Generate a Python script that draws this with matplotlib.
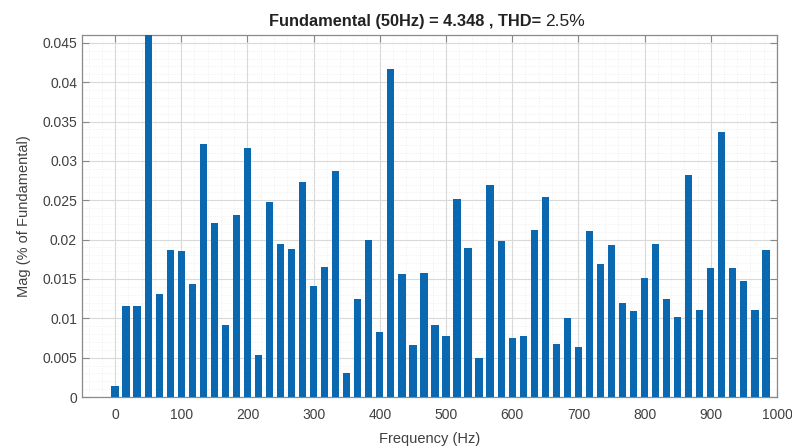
import matplotlib
matplotlib.use('Agg')
from matplotlib import pyplot as plt
from matplotlib.ticker import AutoMinorLocator, FuncFormatter
import numpy as np

plt.rcParams['font.family'] = ['Liberation Sans', 'DejaVu Sans']

# harmonic bins, 3 cycles of 50 Hz -> 16.67 Hz resolution
freq_step = 50.0 / 3
n_bins = 60
mag = [0.0014, 0.0116, 0.0116, 100.0, 0.0131, 0.0187, 0.0185, 0.0143, 0.0322, 0.0221,
       0.0092, 0.0231, 0.0316, 0.0054, 0.0248, 0.0195, 0.0188, 0.0273, 0.0141, 0.0165,
       0.0287, 0.0031, 0.0124, 0.0199, 0.0083, 0.0417, 0.0156, 0.0066, 0.0157, 0.0091,
       0.0077, 0.0251, 0.0189, 0.0049, 0.0269, 0.0198, 0.0075, 0.0077, 0.0212, 0.0254,
       0.0068, 0.0101, 0.0064, 0.0211, 0.0169, 0.0193, 0.0120, 0.0109, 0.0151, 0.0194,
       0.0125, 0.0102, 0.0282, 0.0111, 0.0164, 0.0337, 0.0164, 0.0148, 0.0110, 0.0187]
freq = np.arange(n_bins) * freq_step

fundamental = 4.348
thd = 2.5

fig = plt.figure(figsize=(7.92, 4.48), dpi=100)
ax = fig.add_axes([0.1035, 0.1138, 0.8775, 0.8081])

ax.bar(freq, mag, width=11.0, color='#0a68b0', zorder=3)

ax.set_xlim(-50, 1000)
ax.set_ylim(0, 0.046)
ax.set_xticks(np.arange(0, 1001, 100))
ax.set_yticks(np.arange(0, 0.0451, 0.005))
ax.yaxis.set_major_formatter(FuncFormatter(lambda v, p: '%g' % round(v, 4)))
ax.xaxis.set_minor_locator(AutoMinorLocator(5))
ax.yaxis.set_minor_locator(AutoMinorLocator(5))

ax.grid(which='major', color='#d9d9d9', linewidth=0.8, zorder=0)
ax.grid(which='minor', color='#ececec', linewidth=0.6, linestyle=':', zorder=0)
ax.tick_params(which='both', direction='in', top=True, right=True, colors='#888888',
               labelcolor='#404040', labelsize=10)
ax.tick_params(which='major', length=5)
ax.tick_params(axis='x', which='major', pad=8)
ax.tick_params(which='minor', length=0)
for s in ax.spines.values():
    s.set_color('#8a8a8a')
    s.set_linewidth(0.9)

ax.set_xlabel('Frequency (Hz)', fontsize=10.5, color='#404040', labelpad=7)
ax.set_ylabel('Mag (% of Fundamental)', fontsize=10.5, color='#404040', labelpad=8)

fig.text(0.683, 0.935, 'Fundamental (50Hz) = %.3f , THD=' % fundamental,
         ha='right', va='bottom', fontsize=11.8, fontweight='bold', color='#222222')
fig.text(0.688, 0.935, '%.1f%%' % thd, ha='left', va='bottom', fontsize=12.5,
         color='#222222')

fig.savefig('out.png', dpi=100)
